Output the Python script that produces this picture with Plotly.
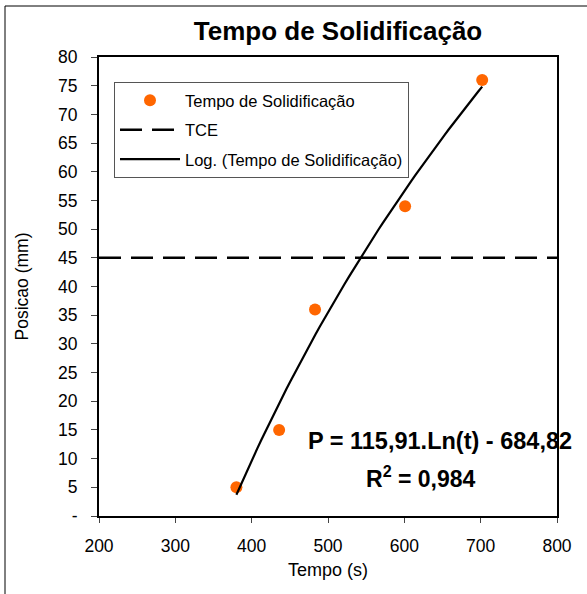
import numpy as np
import plotly.graph_objects as go

# Data
tempo = [380, 436, 483, 601, 702]
posicao = [5, 15, 36, 54, 76]
tce_x = [200, 800]
tce_y = [45, 45]
coef_a = 115.91
coef_b = -684.82
trend_x = np.linspace(380, 702, 60)
trend_y = coef_a * np.log(trend_x) + coef_b

y_ticks = list(range(0, 85, 5))
y_tick_text = ["-"] + [str(v) for v in y_ticks[1:]]
x_ticks = list(range(200, 900, 100))

W, H = 587, 594
L, R, T, B = 99, 30, 57, 78
pw = W - L - R
ph = H - T - B

FONT = "Liberation Sans, Arial, sans-serif"

fig = go.Figure()
fig.add_trace(go.Scatter(x=tempo, y=posicao, mode="markers", name="Tempo de Solidificação",
                         legendgroup="a", marker=dict(color="#FF6600", size=12)))
fig.add_trace(go.Scatter(x=tce_x, y=tce_y, mode="lines", name="TCE", legendgroup="b",
                         line=dict(color="black", width=2.5, dash="22px,10px")))
fig.add_trace(go.Scatter(x=trend_x, y=trend_y, mode="lines", name="Log. (Tempo de Solidificação)",
                         legendgroup="c", line=dict(color="black", width=2.2)))

fig.update_layout(
    width=W, height=H,
    margin=dict(l=L, r=R, t=T, b=B),
    paper_bgcolor="white", plot_bgcolor="white",
    font=dict(family=FONT, size=17, color="black"),
    title=dict(text="<b>Tempo de Solidificação</b>", x=338 / W, xanchor="center",
               y=1 - 31 / H, yanchor="middle", font=dict(size=26)),
    showlegend=True,
    legend=dict(x=(114 - L) / pw, y=1 - (82 - T) / ph, xanchor="left", yanchor="top",
                bgcolor="white", bordercolor="#555555", borderwidth=1,
                font=dict(size=16.5), tracegroupgap=5, itemwidth=60),
    xaxis=dict(range=[200, 800], tickvals=x_ticks, ticks="outside", ticklen=5,
               ticklabelstandoff=8,
               showline=True, linecolor="black", linewidth=2, mirror=True,
               showgrid=False, zeroline=False,
               title=dict(text="Tempo (s)", font=dict(size=18), standoff=8),
               tickfont=dict(size=17.5)),
    yaxis=dict(range=[0, 80], tickvals=y_ticks, ticktext=y_tick_text, ticks="outside", ticklen=6,
               ticklabelstandoff=10,
               showline=True, linecolor="black", linewidth=2, mirror=True,
               showgrid=False, zeroline=False,
               title=dict(text="Posicao (mm)", font=dict(size=17.5), standoff=25),
               tickfont=dict(size=17.5)),
    shapes=[dict(type="rect", xref="paper", yref="paper",
                 x0=(5 - L) / pw, x1=(700 - L) / pw,
                 y0=(H - B - 700) / ph, y1=(H - B - 6) / ph,
                 line=dict(color="black", width=1), fillcolor="rgba(0,0,0,0)", layer="below")],
    annotations=[
        dict(text="<b>P = 115,91.Ln(t) - 684,82</b>", xref="paper", yref="paper",
             x=(440 - L) / pw, y=(H - B - 441) / ph, xanchor="center", yanchor="middle",
             showarrow=False, font=dict(size=23.5)),
        dict(text="<b>R<sup>2</sup> = 0,984</b>", xref="paper", yref="paper",
             x=(421 - L) / pw, y=(H - B - 477) / ph, xanchor="center", yanchor="middle",
             showarrow=False, font=dict(size=23)),
    ],
)

fig.write_html("out.html", post_script="document.body.style.margin='0';",
               config={"displayModeBar": False})
